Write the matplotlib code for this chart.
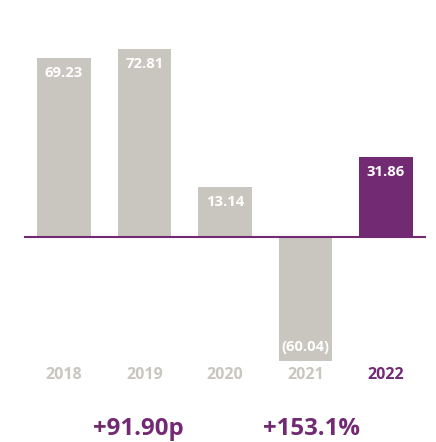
import matplotlib.pyplot as plt

# data
years = ['2018', '2019', '2020', '2021', '2022']
value_labels = ['69.23', '72.81', '13.14', '(60.04)', '31.86']
# bar heights as drawn (the original artwork is not to scale)
heights = [69.2, 72.8, 19.4, -48.1, 31.0]
summary = ['+91.90p', '+153.1%']

GREY = '#c9c6bf'
PURPLE = '#722a73'
W, H = 436, 442

plt.rcParams['font.family'] = ['Open Sans', 'DejaVu Sans']

fig = plt.figure(figsize=(W / 100, H / 100), dpi=100)
# axes placed in pixel units: x 23.75..426.25, y 30..370 (from top)
ax = fig.add_axes([23.75 / W, 1 - 370 / H, 402.5 / W, 340 / H])
ax.set_xlim(-0.5, 4.5)
ax.set_ylim(-51.55, 80.23)
ax.axis('off')

colors = [GREY] * 4 + [PURPLE]
xs = range(len(years))
ax.bar(xs, heights, width=0.67, color=colors, zorder=2)
ax.axhline(0, color=PURPLE, lw=1.5, zorder=3)

# labels inside bars (px offset from bar end)
for x, h, lab in zip(xs, heights, value_labels):
    dy = -15 if h >= 0 else 14
    ax.annotate(lab, (x, h), xytext=(0, dy), textcoords='offset pixels',
                ha='center', va='center', color='white', fontsize=10.7,
                fontweight='bold')

# year labels
for x, yr in zip(xs, years):
    c = PURPLE if yr == '2022' else GREY
    ax.annotate(yr, (x, 0), xytext=(0, -(375 - 237)), textcoords='offset pixels',
                ha='center', va='center', color=c, fontsize=11.5,
                fontweight='bold')

# summary figures at the bottom
fig.text(138 / W, 1 - 429 / H, summary[0], ha='center', va='center',
         color=PURPLE, fontsize=17.3, fontweight='bold')
fig.text(311 / W, 1 - 429 / H, summary[1], ha='center', va='center',
         color=PURPLE, fontsize=17.3, fontweight='bold')

fig.savefig('out.png', dpi=100)
